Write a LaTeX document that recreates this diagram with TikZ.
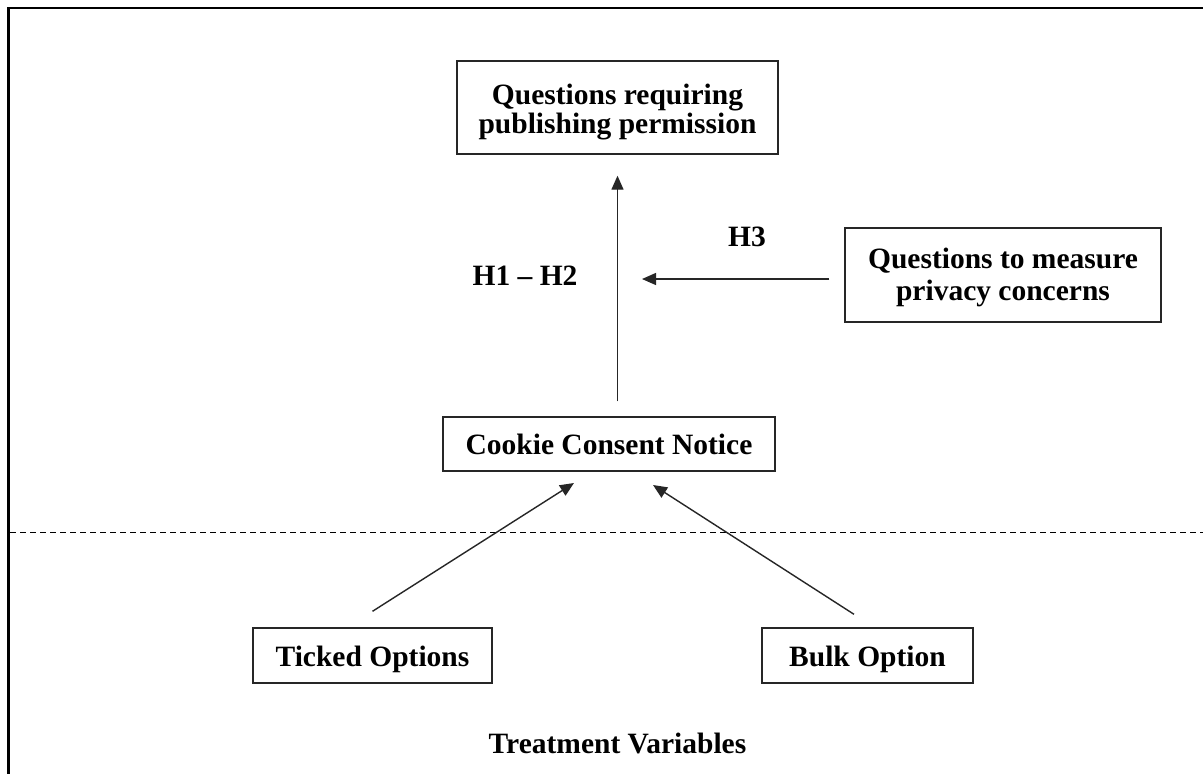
\documentclass[tikz,border=0pt]{standalone}
\usepackage{fontspec}
\setmainfont{Liberation Serif}
\usetikzlibrary{arrows.meta}
\newcommand{\twolines}[3]{\raisebox{#1}[\height][\depth]{\begin{tabular}{@{}c@{}}#2\\#3\end{tabular}}}
\tikzset{
  box/.style={draw=black!85, line width=1.4pt, inner sep=0pt, align=center,
    font=\bfseries\fontsize{29.5}{29}\selectfont},
  onel/.style={text height=21pt, text depth=0pt},
  lbl/.style={inner sep=0pt, text height=20pt, text depth=0pt,
    font=\bfseries\fontsize{29.5}{31}\selectfont},
  arr/.style={draw=black!85, line width=1.4pt, -{Triangle[length=14pt,width=12pt]}},
}
\begin{document}
\begin{tikzpicture}[x=1pt,y=-1pt]
\useasboundingbox (0,0) rectangle (1203,774);
\fill[white] (0,0) rectangle (1203,774);
% frame
\draw[line width=2.6pt] (8.5,774) -- (8.5,7.8) -- (1203,7.8);
% dashed separator
\draw[line width=1pt, dash pattern=on 6pt off 4pt] (10,532) -- (1203,532);

\node[box, minimum width=321pt, minimum height=93pt] (top) at (617.5,107.5)
  {\twolines{-6pt}{Questions requiring}{publishing permission}};
\node[box, minimum width=316pt, minimum height=94pt,
  font=\bfseries\fontsize{29.5}{32}\selectfont] (meas) at (1003,275)
  {\twolines{-3pt}{Questions to measure}{privacy concerns}};
\node[box, onel, minimum width=332pt, minimum height=54pt] (cookie) at (609,444)
  {Cookie Consent Notice};
\node[box, onel, minimum width=239pt, minimum height=55pt] (ticked) at (372.5,655.5)
  {Ticked Options};
\node[box, onel, minimum width=211pt, minimum height=55pt] (bulk) at (867.5,655.5)
  {Bulk Option};

\node[lbl] (h12) at (525,275) {H1 -- H2};
\node[lbl] (h3) at (747,236) {H3};
\node[lbl] (treat) at (617.5,743) {Treatment Variables};

\coordinate (h3end) at (642,279);
\coordinate (t1) at (574,483);
\coordinate (t2) at (653,485);

\draw[arr, shorten <=15pt, shorten >=21pt] (cookie.north -| top.south) -- (top.south);
\draw[arr, shorten <=15pt] (meas.west |- h3end) -- (h3end);
\draw[arr] ([yshift=16pt]ticked.north) -- (t1);
\draw[arr] ([xshift=-13.5pt,yshift=13pt]bulk.north) -- (t2);
\end{tikzpicture}
\end{document}
